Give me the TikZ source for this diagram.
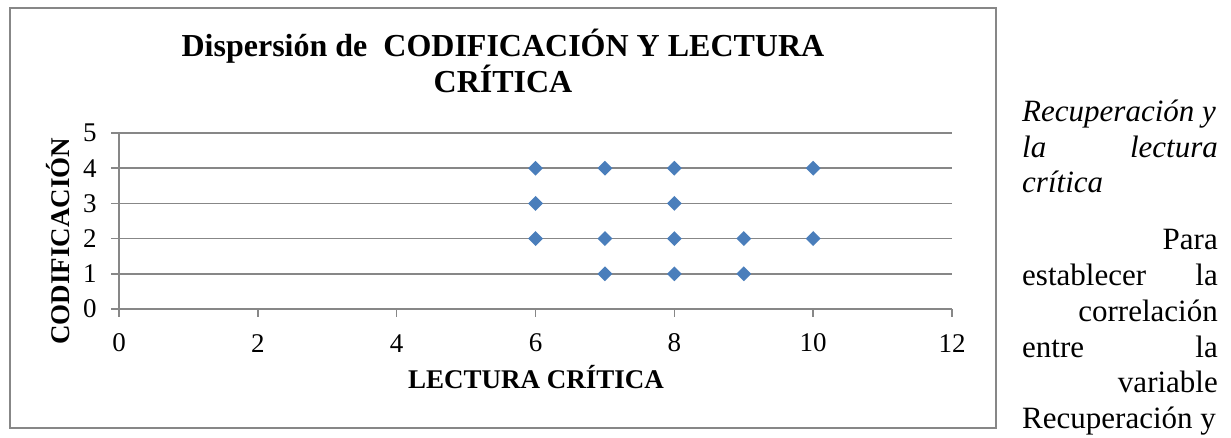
\documentclass[tikz,border=0pt]{standalone}
\usepackage{fontspec}
\setmainfont{Liberation Serif}
\usetikzlibrary{shapes.geometric}
\definecolor{gridgray}{HTML}{878787}
\definecolor{markblue}{HTML}{4A7EBB}
\tikzset{
  gridline/.style={draw=gridgray, line width=1.5pt},
  framebox/.style={draw=gridgray, line width=1.6pt},
  datapt/.style={diamond, fill=markblue, inner sep=0pt, minimum width=15pt, minimum height=15pt},
  ticklab/.style={font=\fontsize{27}{30}\selectfont, inner sep=0pt},
  titletxt/.style={font=\fontsize{32}{36}\selectfont\bfseries, anchor=base, inner sep=0pt},
  axtitle/.style={font=\fontsize{27}{30}\selectfont\bfseries, inner sep=0pt},
  bodytxt/.style={font=\fontsize{31}{36}\selectfont, anchor=base west, inner sep=0pt},
  bodytxtr/.style={font=\fontsize{31}{36}\selectfont, anchor=base east, inner sep=0pt},
  bodyit/.style={font=\fontsize{31}{36}\selectfont\itshape, anchor=base west, inner sep=0pt},
  bodyitr/.style={font=\fontsize{31}{36}\selectfont\itshape, anchor=base east, inner sep=0pt}
}
\begin{document}
\begin{tikzpicture}[x=1pt, y=-1pt]
\useasboundingbox (0,0) rectangle (1231,437);
\fill[white] (0,0) rectangle (1231,437);
% chart frame
\draw[framebox] (10,8) rectangle (996,428);
% title
\node[titletxt] (t1) at (503,56) {Dispersión de\ \ CODIFICACIÓN Y LECTURA};
\node[titletxt] (t2) at (503,92) {CRÍTICA};
% plot
\begin{scope}[shift={(119,309)}, x=69.42pt, y=35.2pt]
  \foreach \k in {1,...,5} {
    \draw[gridline] (0,\k) -- (12,\k);
    \draw[gridline] (-0.115,\k) -- (0,\k);
  }
  \draw[gridline] (0,5) -- (0,0) -- (12,0);
  \draw[gridline] (-0.115,0) -- (0,0);
  \foreach \i in {0,2,...,12} {
    \draw[gridline] (\i,0) -- (\i,-0.23);
    \node[ticklab] (xl\i) at (\i,-0.97) {\i};
  }
  \foreach \k in {0,...,5} {
    \node[ticklab, anchor=east] (yl\k) at (-0.32,\k) {\k};
  }
  \foreach \px/\py [count=\n] in {6/4,7/4,8/4,10/4,6/3,8/3,6/2,7/2,8/2,9/2,10/2,7/1,8/1,9/1} {
    \node[datapt] (p\n) at (\px,\py) {};
  }
\end{scope}
% axis titles
\node[axtitle, anchor=base] (xt) at (536,388) {LECTURA CRÍTICA};
\node[axtitle, rotate=90] (yt) at (58,241) {CODIFICACIÓN};
% right text column
\node[bodyit] (r1) at (1022,121) {Recuperación y};
\node[bodyit] (r2a) at (1022,157) {la};
\node[bodyitr] (r2b) at (1218,157) {lectura};
\node[bodyit] (r3) at (1022,192) {crítica};
\node[bodytxtr] (r4) at (1218,249) {Para};
\node[bodytxt] (r5a) at (1022,285) {establecer};
\node[bodytxtr] (r5b) at (1218,285) {la};
\node[bodytxtr] (r6) at (1218,321) {correlación};
\node[bodytxt] (r7a) at (1022,357) {entre};
\node[bodytxtr] (r7b) at (1218,357) {la};
\node[bodytxtr] (r8) at (1218,392) {variable};
\node[bodytxt] (r9) at (1022,428) {Recuperación y};
\end{tikzpicture}
\end{document}
